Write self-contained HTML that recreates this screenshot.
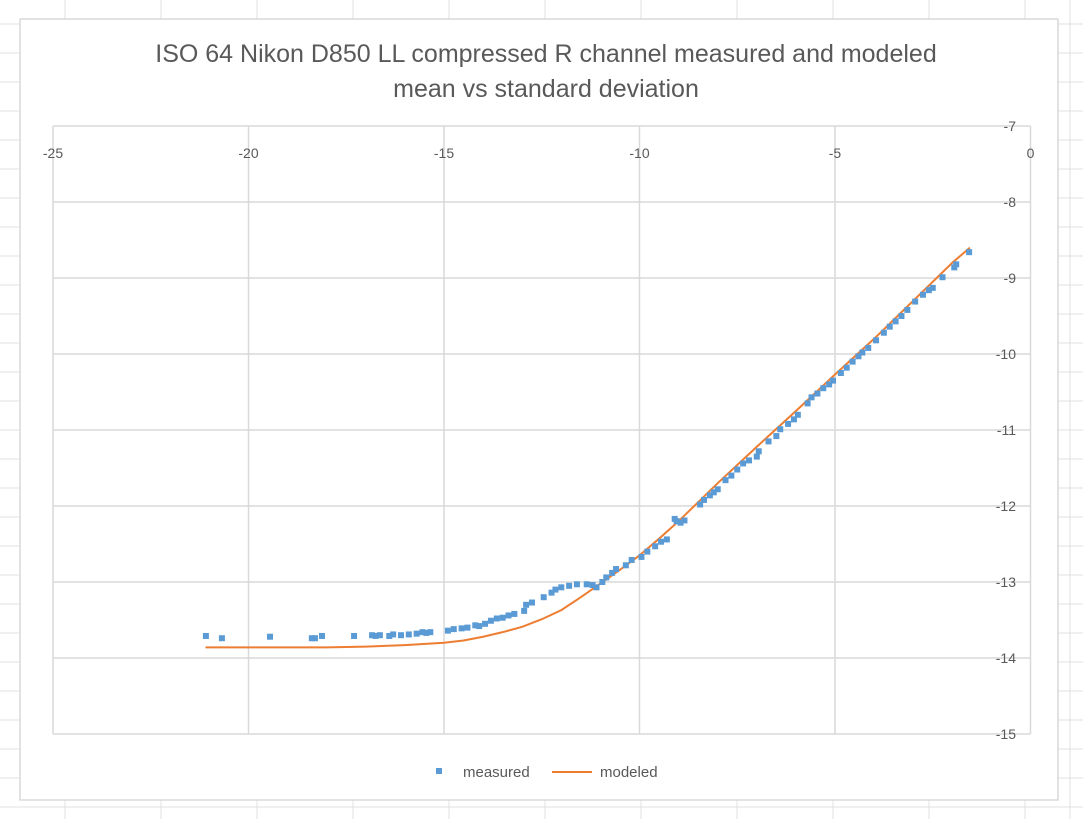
<!DOCTYPE html>
<html><head><meta charset="utf-8">
<style>
body{margin:0;background:#fff;width:1083px;height:819px;overflow:hidden;font-family:"Liberation Sans",Arial,sans-serif}
svg text{font-family:"Liberation Sans",Arial,sans-serif}
</style></head>
<body>
<svg id="chart" width="1083" height="819" xmlns="http://www.w3.org/2000/svg">
<g id="sheet"></g>
<rect x="20" y="19" width="1038" height="781" fill="#fff" stroke="#d9d9d9" stroke-width="1.5"/>
<text x="546" y="62" text-anchor="middle" font-size="25" fill="#595959">ISO 64 Nikon D850 LL compressed R channel measured and modeled</text>
<text x="546" y="97" text-anchor="middle" font-size="25" fill="#595959">mean vs standard deviation</text>
<g id="grid"></g>
<g id="ticks"></g>
<g id="series"></g>
<g>
<rect x="436" y="768" width="6" height="6" fill="#5b9bd5"/>
<text x="463" y="777" font-size="15" fill="#595959">measured</text>
<line x1="552" y1="772" x2="592" y2="772" stroke="#ed7d31" stroke-width="2"/>
<text x="600" y="777" font-size="15" fill="#595959">modeled</text>
</g>
</svg>
<script>
const xTicks=[-25,-20,-15,-10,-5,0];
const yTicks=[-7,-8,-9,-10,-11,-12,-13,-14,-15];
const measuredX=[-21.09,-20.68,-19.45,-18.38,-18.3,-18.12,-17.3,-16.84,-16.75,-16.64,-16.4,-16.3,-16.1,-15.9,-15.7,-15.55,-15.45,-15.35,-14.9,-14.75,-14.55,-14.4,-14.2,-14.1,-13.95,-13.8,-13.65,-13.5,-13.35,-13.2,-12.95,-12.9,-12.75,-12.45,-12.25,-12.15,-12.0,-11.8,-11.6,-11.35,-11.2,-11.1,-10.95,-10.85,-10.7,-10.6,-10.35,-10.2,-9.95,-9.8,-9.6,-9.45,-9.3,-9.1,-9.05,-8.95,-8.85,-8.45,-8.35,-8.2,-8.1,-8.0,-7.8,-7.65,-7.5,-7.35,-7.2,-7.0,-6.95,-6.7,-6.5,-6.4,-6.2,-6.05,-5.95,-5.7,-5.6,-5.45,-5.3,-5.15,-5.05,-4.85,-4.7,-4.55,-4.4,-4.3,-4.15,-3.95,-3.75,-3.6,-3.45,-3.3,-3.15,-2.95,-2.75,-2.6,-2.5,-2.25,-1.95,-1.9,-1.57];
const measuredY=[-13.71,-13.74,-13.72,-13.74,-13.74,-13.71,-13.71,-13.7,-13.71,-13.7,-13.71,-13.69,-13.7,-13.69,-13.68,-13.66,-13.67,-13.66,-13.64,-13.62,-13.61,-13.6,-13.57,-13.58,-13.55,-13.51,-13.48,-13.47,-13.44,-13.42,-13.38,-13.3,-13.27,-13.2,-13.14,-13.1,-13.07,-13.05,-13.03,-13.03,-13.04,-13.07,-13.0,-12.94,-12.88,-12.83,-12.78,-12.71,-12.67,-12.6,-12.53,-12.47,-12.44,-12.17,-12.2,-12.22,-12.19,-11.98,-11.92,-11.86,-11.82,-11.78,-11.66,-11.6,-11.52,-11.44,-11.4,-11.35,-11.28,-11.15,-11.08,-10.99,-10.92,-10.86,-10.8,-10.65,-10.57,-10.52,-10.45,-10.4,-10.35,-10.25,-10.18,-10.1,-10.03,-9.98,-9.92,-9.82,-9.72,-9.64,-9.57,-9.5,-9.42,-9.31,-9.22,-9.16,-9.13,-8.99,-8.86,-8.82,-8.66];
const modeledX=[-21.1,-20,-19,-18,-17,-16,-15,-14.5,-14,-13.5,-13,-12.5,-12,-11.5,-11,-10.5,-10,-9.5,-9,-8.5,-8,-7,-6,-5,-4,-3,-2,-1.55];
const modeledY=[-13.86,-13.86,-13.86,-13.86,-13.85,-13.83,-13.8,-13.77,-13.72,-13.66,-13.59,-13.49,-13.37,-13.2,-13.02,-12.84,-12.65,-12.43,-12.2,-11.95,-11.7,-11.22,-10.75,-10.27,-9.8,-9.3,-8.8,-8.6];
const NS="http://www.w3.org/2000/svg";
const L=53,R=1030.5,T=126,B=734;
const xs=v=>L+(v+25)/25*(R-L);
const ys=v=>T+(-7-v)/8*(B-T);
function mk(tag,attrs,parent){const e=document.createElementNS(NS,tag);for(const k in attrs)e.setAttribute(k,attrs[k]);parent.appendChild(e);return e;}
const sheet=document.getElementById('sheet');
for(let y=24;y<819;y+=29){const e=mk('line',{x1:0,x2:1083,y1:y,y2:y,stroke:'#e1e1e1'},sheet);}
for(const x of [65,161,257,353,449,545,641,737,833,929,1025,1070]){const e=mk('line',{x1:x,x2:x,y1:0,y2:819,stroke:'#e1e1e1'},sheet);}
const grid=document.getElementById('grid'),ticks=document.getElementById('ticks');
xTicks.forEach(v=>{const e=mk('line',{x1:xs(v),x2:xs(v),y1:T,y2:B,stroke:'#d9d9d9','stroke-width':1.5},grid);
const t=mk('text',{x:xs(v),y:T+32,'text-anchor':'middle','font-size':14,fill:'#595959'},ticks);t.textContent=v;});
yTicks.forEach(v=>{const e=mk('line',{x1:L,x2:R,y1:ys(v),y2:ys(v),stroke:'#d9d9d9','stroke-width':1.5},grid);
const t=mk('text',{x:1016,y:ys(v)+5,'text-anchor':'end','font-size':14,fill:'#595959'},ticks);t.textContent=v;});
const ser=document.getElementById('series');
const p=mk('polyline',{points:modeledX.map((x,i)=>xs(x)+','+ys(modeledY[i])).join(' '),fill:'none',stroke:'#ed7d31','stroke-width':2},ser);


measuredX.forEach((x,i)=>{const r=mk('rect',{x:xs(x)-3,y:ys(measuredY[i])-3,width:6,height:6,fill:'#5b9bd5'},ser);

});
</script>
</body></html>
